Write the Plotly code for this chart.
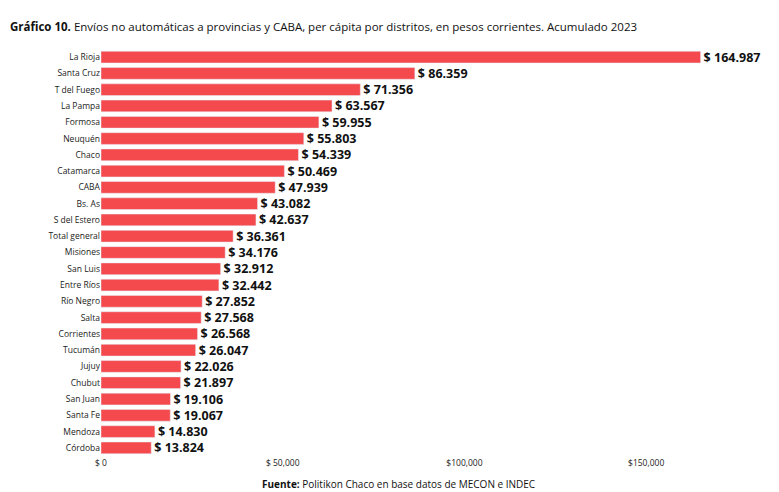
import plotly.graph_objects as go

distritos = ["La Rioja", "Santa Cruz", "T del Fuego", "La Pampa", "Formosa", "Neuquén", "Chaco",
             "Catamarca", "CABA", "Bs. As", "S del Estero", "Total general", "Misiones", "San Luis",
             "Entre Ríos", "Río Negro", "Salta", "Corrientes", "Tucumán", "Jujuy", "Chubut",
             "San Juan", "Santa Fe", "Mendoza", "Córdoba"]
valores = [164987, 86359, 71356, 63567, 59955, 55803, 54339, 50469, 47939, 43082, 42637, 36361,
           34176, 32912, 32442, 27852, 27568, 26568, 26047, 22026, 21897, 19106, 19067, 14830, 13824]
tick_vals = [0, 50000, 100000, 150000]
tick_text = ["$ 0", "$ 50,000", "$100,000", "$150,000"]

etiquetas = ["<b>$ " + f"{v:,}".replace(",", ".") + "</b>" for v in valores]

fig = go.Figure(go.Bar(
    x=valores, y=distritos, orientation="h",
    marker=dict(color="#f44a4e"),
    text=etiquetas, textposition="outside", cliponaxis=False,
    constraintext="none",
    textfont=dict(size=12.5, color="#111"),
    width=0.72,
))

fig.update_layout(
    width=779, height=492,
    margin=dict(l=93, r=50, t=41, b=44),
    paper_bgcolor="white", plot_bgcolor="white",
    font=dict(family="Open Sans", color="#222"),
    showlegend=False,
    xaxis=dict(range=[0, 175000], tickvals=tick_vals, ticktext=tick_text, automargin=False,
               showgrid=False, zeroline=False, tickfont=dict(size=8.5)),
    yaxis=dict(autorange="reversed", tickfont=dict(size=8.5), ticks="", ticklen=0,
               automargin=False),
    annotations=[
        dict(text="<b>Gráfico 10.</b> Envíos no automáticas a provincias y CABA, per cápita por distritos, en pesos corrientes. Acumulado 2023",
             xref="paper", yref="paper", x=-93/636, y=1, yshift=23, xanchor="left", yanchor="middle",
             showarrow=False, font=dict(size=11.5, color="#111")),
        dict(text="<b>Fuente:</b> Politikon Chaco en base datos de MECON e INDEC",
             xref="paper", yref="paper", x=(390-93)/636, y=0, yshift=-28, xanchor="center", yanchor="middle",
             showarrow=False, font=dict(size=10, color="#111")),
    ],
)

fig.write_html("out.html")
